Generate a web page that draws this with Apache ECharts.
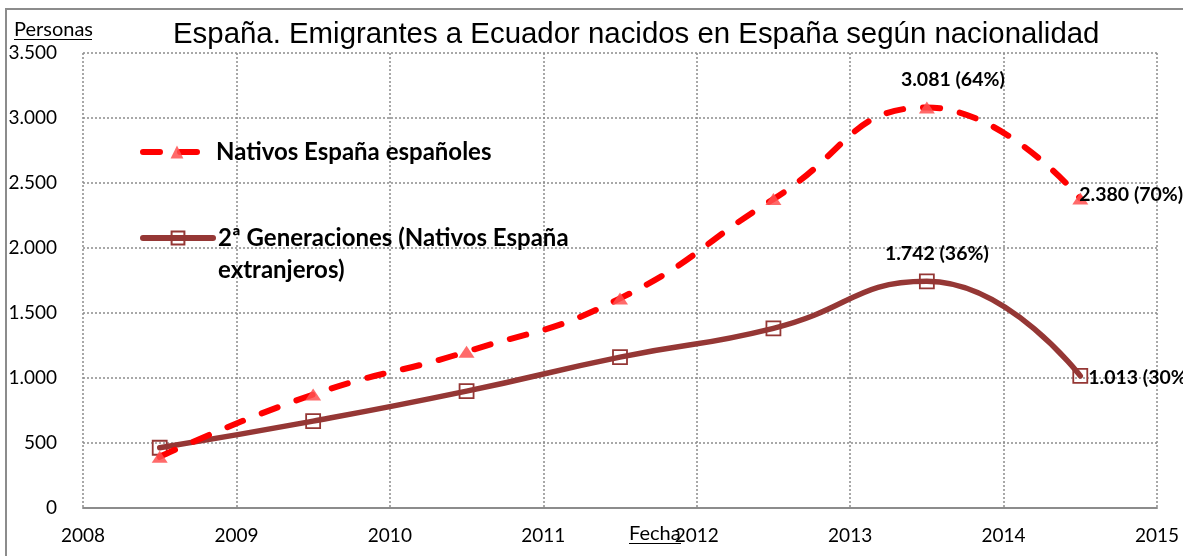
<!DOCTYPE html>
<html>
<head>
<meta charset="utf-8">
<script src="https://cdn.jsdelivr.net/npm/echarts@6/dist/echarts.min.js"></script>
<style>html,body{margin:0;padding:0;background:#fff}#c{width:1183px;height:556px}</style>
</head>
<body>
<div id="c"></div>
<script>
const years = [2008.5, 2009.5, 2010.5, 2011.5, 2012.5, 2013.5, 2014.5];
const nativos = [390, 870, 1200, 1610, 2375, 3081, 2380];
const segunda = [460, 665, 896, 1158, 1380, 1742, 1013];
const titleText = 'España. Emigrantes a Ecuador nacidos en España según nacionalidad';
const nameA = 'Nativos España españoles';
const nameB = '2ª Generaciones (Nativos España\nextranjeros)';

function fmtNum(v){ return String(v).replace(/\B(?=(\d{3})+(?!\d))/g, '.'); }
function pct(i, arr){ return Math.round(arr[i] / (nativos[i] + segunda[i]) * 100); }

const labelFont = {fontFamily:'Lato', fontWeight:'bold', fontSize:19.5, color:'#000'};

function buildData(arr, cfg){
  return years.map((x, i) => {
    const d = {value:[x, arr[i]]};
    const c = cfg[i];
    if (c) {
      d.label = Object.assign({show:true, formatter: fmtNum(arr[i]) + ' (' + pct(i, arr) + '%)'}, labelFont, c);
    }
    return d;
  });
}

const chart = echarts.init(document.getElementById('c'), null, {renderer:'canvas'});
chart.setOption({
  animation:false,
  backgroundColor:'#fff',
  title:{text:titleText, left:168, top:15, textStyle:{fontFamily:'Liberation Sans', fontWeight:'normal', fontSize:29.4, color:'#000'}},
  grid:{left:83, right:26, top:53, bottom:48.5, containLabel:false},
  legend:[{
    data:[nameA], left:135, top:135, orient:'vertical', itemWidth:68, itemHeight:16, itemGap:0,
    lineStyle:{width:6},
    textStyle:{fontFamily:'Lato', fontWeight:'bold', fontSize:24, color:'#000'},
    formatter: n => n
  },{
    data:[nameB], left:135, top:185, orient:'vertical', itemWidth:70, itemHeight:16, itemGap:0,
    lineStyle:{width:6},
    textStyle:{fontFamily:'Lato', fontWeight:'bold', fontSize:24, color:'#000', lineHeight:32},
    formatter: n => '\n' + n
  }],
  xAxis:{type:'value', min:2008, max:2015, interval:1,
    axisLine:{show:true, onZero:false, lineStyle:{color:'#8c8c8c', width:2}},
    axisTick:{show:false},
    axisLabel:{fontFamily:'Lato', fontSize:19, color:'#000', margin:19, formatter:v=>String(v)},
    splitLine:{show:true, lineStyle:{color:'#8c8c8c', type:[2,2], width:1.5}}
  },
  yAxis:{type:'value', min:0, max:3500, interval:500,
    axisLine:{show:false}, axisTick:{show:false},
    axisLabel:{fontFamily:'Lato', fontSize:19, color:'#000', margin:26, formatter:v=>fmtNum(v)},
    splitLine:{show:true, lineStyle:{color:'#8c8c8c', type:[2,2], width:1.5}}
  },
  graphic:[
    {type:'rect', shape:{x:6, y:9, width:1300, height:700}, style:{fill:'none', stroke:'#8c8c8c', lineWidth:2}, silent:true},
    {type:'text', left:14, top:20, style:{text:'Personas', fontFamily:'Lato', fontSize:20, fill:'#000'}},
    {type:'line', shape:{x1:14, y1:39.5, x2:92, y2:39.5}, style:{stroke:'#000', lineWidth:1}},
    {type:'text', left:629, top:524, style:{text:'Fecha', fontFamily:'Lato', fontSize:20, fill:'#000'}},
    {type:'line', shape:{x1:629, y1:543.5, x2:681, y2:543.5}, style:{stroke:'#000', lineWidth:1}}
  ],
  series:[{
    name:nameA, type:'line', smooth:0.5, z:3,
    data:buildData(nativos, {5:{position:'top', distance:12, offset:[26,0]}, 6:{position:'right', distance:0, offset:[-9,-4]}}),
    symbol:'triangle', symbolSize:[16,12],
    itemStyle:{color:'rgba(255,80,80,0.85)'},
    lineStyle:{color:'#ff0000', width:6, type:[17,20], cap:'round'}
  },{
    name:nameB, type:'line', smooth:0.5, z:2,
    data:buildData(segunda, {5:{position:'top', distance:10, offset:[10,0]}, 6:{position:'right', distance:0, offset:[0,2]}}),
    symbol:'rect', symbolSize:14,
    itemStyle:{color:'rgba(255,255,255,0)', borderColor:'#953735', borderWidth:1.8},
    lineStyle:{color:'#953735', width:5.5, cap:'round'}
  }]
});
</script>
</body>
</html>
